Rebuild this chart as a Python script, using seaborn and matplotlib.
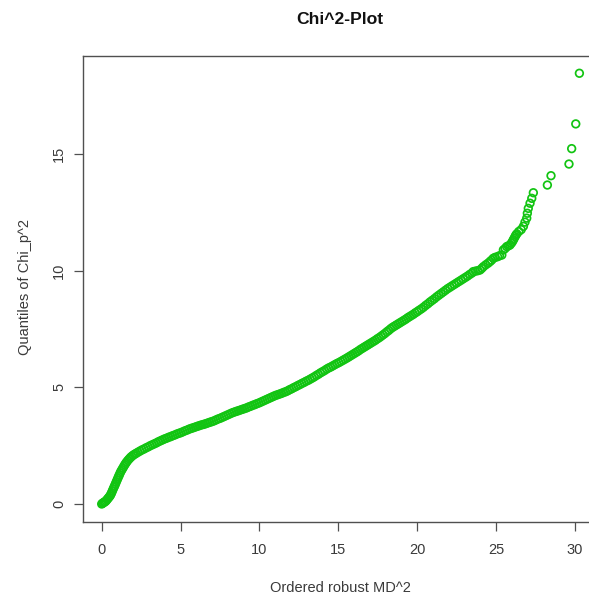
import matplotlib
matplotlib.use("Agg")
import matplotlib.pyplot as plt
import seaborn as sns
import pandas as pd

# Ordered robust MD^2 (x) and chi-square quantiles (y)
md2 = [
    0.00, 0.05, 0.10, 0.16, 0.22, 0.28, 0.34, 0.40, 0.46, 0.52, 0.57, 0.62, 0.67, 0.72,
    0.77, 0.82, 0.87, 0.92, 0.97, 1.02, 1.07, 1.12, 1.17, 1.22, 1.28, 1.34, 1.40, 1.46,
    1.52, 1.58, 1.66, 1.74, 1.82, 1.90, 1.99, 2.08, 2.18, 2.30, 2.43,
    2.56, 2.69, 2.82, 2.95, 3.08, 3.21, 3.34, 3.47, 3.60, 3.73, 3.86, 3.99, 4.12, 4.25,
    4.38, 4.51, 4.64, 4.77, 4.90, 5.03,
    5.16, 5.29, 5.42, 5.55, 5.68, 5.81, 5.94, 6.07, 6.20, 6.33, 6.46, 6.59, 6.72, 6.85,
    6.98, 7.11, 7.24, 7.37, 7.50, 7.63, 7.76, 7.89, 8.02, 8.15, 8.28, 8.41, 8.54, 8.67,
    8.80, 8.93, 9.06, 9.19, 9.32, 9.45, 9.58, 9.71, 9.84, 9.97, 10.10,
    10.23, 10.36, 10.49, 10.62, 10.75, 10.88, 11.01, 11.14, 11.27, 11.40, 11.53, 11.66,
    11.79, 11.92, 12.05, 12.18, 12.31, 12.44, 12.57, 12.70, 12.83, 12.96, 13.09, 13.22,
    13.35, 13.48, 13.61, 13.74, 13.87, 14.00, 14.13, 14.26, 14.39, 14.52, 14.65, 14.78,
    14.91, 15.04, 15.17, 15.30, 15.43, 15.56,
    15.68, 15.80, 15.92, 16.04, 16.16, 16.28, 16.40, 16.52, 16.64, 16.76, 16.88, 17.00,
    17.12, 17.24, 17.36, 17.48, 17.60, 17.72, 17.84, 17.96, 18.08, 18.20, 18.32, 18.44,
    18.56, 18.68, 18.80, 18.92, 19.04, 19.16, 19.28, 19.40, 19.52, 19.64, 19.76, 19.88,
    20.00, 20.12,
    20.26, 20.40, 20.54, 20.68, 20.82, 20.96, 21.10, 21.24, 21.38, 21.52, 21.66, 21.80,
    21.94, 22.08, 22.22, 22.36, 22.50, 22.64, 22.78, 22.92, 23.06, 23.20, 23.34, 23.48,
    23.56, 23.70, 23.85, 23.99, 24.10, 24.20, 24.35, 24.50, 24.62, 24.72, 24.83, 24.95,
    25.10, 25.22, 25.37, 25.47, 25.58, 25.68, 25.78, 25.89, 25.98, 26.05, 26.10, 26.15,
    26.21, 26.26, 26.32, 26.45, 26.60, 26.74, 26.84, 26.95, 26.99, 27.05, 27.16, 27.27,
    27.37, 28.26, 28.49, 29.63, 29.80, 30.06, 30.29,
]
chi2_quant = [
    0.00, 0.03, 0.05, 0.08, 0.10, 0.14, 0.19, 0.24, 0.29, 0.34, 0.40, 0.47, 0.55, 0.63,
    0.71, 0.78, 0.86, 0.94, 1.02, 1.10, 1.18, 1.25, 1.33, 1.40, 1.47, 1.54, 1.61, 1.68,
    1.74, 1.80, 1.87, 1.93, 1.99, 2.04, 2.09, 2.13, 2.17, 2.22, 2.27,
    2.32, 2.36, 2.41, 2.45, 2.50, 2.54, 2.58, 2.62, 2.67, 2.71, 2.75, 2.79, 2.82, 2.86,
    2.89, 2.93, 2.96, 3.00, 3.03, 3.06,
    3.10, 3.14, 3.17, 3.21, 3.24, 3.27, 3.30, 3.33, 3.36, 3.39, 3.41, 3.44, 3.47, 3.50,
    3.53, 3.56, 3.60, 3.64, 3.67, 3.71, 3.75, 3.79, 3.83, 3.87, 3.91, 3.94, 3.97, 4.00,
    4.03, 4.06, 4.09, 4.12, 4.16, 4.19, 4.23, 4.26, 4.30, 4.33, 4.37,
    4.41, 4.45, 4.49, 4.53, 4.57, 4.61, 4.65, 4.68, 4.71, 4.74, 4.78, 4.81,
    4.85, 4.90, 4.94, 4.99, 5.03, 5.08, 5.12, 5.17, 5.21, 5.26, 5.30, 5.35,
    5.40, 5.45, 5.51, 5.56, 5.62, 5.67, 5.72, 5.78, 5.83, 5.87, 5.92, 5.97,
    6.02, 6.06, 6.11, 6.16, 6.21, 6.26,
    6.31, 6.36, 6.41, 6.46, 6.51, 6.56, 6.62, 6.67, 6.72, 6.77, 6.82, 6.87,
    6.92, 6.97, 7.02, 7.08, 7.13, 7.19, 7.25, 7.31, 7.38, 7.44, 7.51, 7.57,
    7.62, 7.67, 7.72, 7.77, 7.82, 7.87, 7.92, 7.98, 8.03, 8.08, 8.13, 8.19,
    8.24, 8.30,
    8.36, 8.43, 8.51, 8.58, 8.66, 8.73, 8.80, 8.88, 8.95, 9.02, 9.09, 9.16,
    9.23, 9.29, 9.35, 9.41, 9.47, 9.53, 9.59, 9.65, 9.71, 9.77, 9.84, 9.90,
    9.96, 9.98, 10.00, 10.03, 10.10, 10.17, 10.25, 10.32, 10.39, 10.45, 10.53, 10.57,
    10.60, 10.64, 10.67, 10.89, 10.95, 11.03, 11.06, 11.10, 11.18, 11.25, 11.32, 11.38,
    11.46, 11.52, 11.58, 11.68, 11.76, 11.90, 12.08, 12.25, 12.46, 12.67, 12.89, 13.10,
    13.34, 13.67, 14.07, 14.57, 15.23, 16.29, 18.46,
]

x_ticks = [0, 5, 10, 15, 20, 25, 30]
y_ticks = [0, 5, 10, 15]
title = "Chi^2-Plot"
x_label = "Ordered robust MD^2"
y_label = "Quantiles of Chi_p^2"

df = pd.DataFrame({"md2": md2, "q": chi2_quant})

sns.set_style("white")
plt.rcParams["font.family"] = ["Liberation Sans", "DejaVu Sans"]

W, H = 589, 596
fig = plt.figure(figsize=(W / 100, H / 100), dpi=100)
left, right, top, bottom = 82.7, 598.0, 56.0, 521.5
ax = fig.add_axes([left / W, 1 - bottom / H, (right - left) / W, (bottom - top) / H])

green = "#12C412"
sns.scatterplot(data=df, x="md2", y="q", ax=ax, marker="o", s=30,
                facecolor="none", edgecolor=green, linewidth=1.25, legend=False)

ax.set_xlim(-1.205, 31.47)
ax.set_ylim(-0.75, 19.2)
ax.set_xticks(x_ticks)
ax.set_yticks(y_ticks)
ax.set_xticklabels([str(t) for t in x_ticks])
ax.set_yticklabels([str(t) for t in y_ticks], rotation=90, va="center")
ax.set_xlabel("")
ax.set_ylabel("")

text_col = "#3a3a3a"
for sp in ax.spines.values():
    sp.set_visible(True)
    sp.set_color("#505050")
    sp.set_linewidth(1.0)
ax.tick_params(axis="both", direction="out", length=6.5, width=0.9, color="#505050",
               labelcolor=text_col, labelsize=10.5)
ax.tick_params(axis="x", pad=9, bottom=True)
ax.tick_params(axis="y", pad=5.5, left=True)

fig.text(340 / W, 1 - 20 / H, title, ha="center", va="center", fontsize=12.6,
         fontweight="bold", color="#111111")
fig.text(340 / W, 1 - 588 / H, x_label, ha="center", va="center", fontsize=10.5,
         color=text_col)
fig.text(25 / W, 1 - 287 / H, y_label, ha="center", va="center", fontsize=10.5,
         rotation=90, color=text_col)

fig.savefig("out.png", dpi=100)
